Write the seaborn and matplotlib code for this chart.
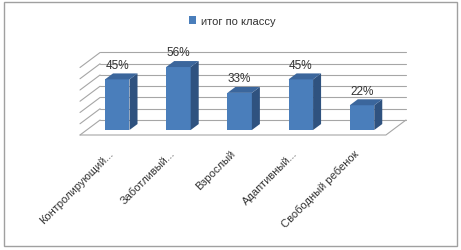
import matplotlib
matplotlib.use("Agg")
import matplotlib.pyplot as plt
import matplotlib.transforms as mtransforms
import seaborn as sns
from matplotlib.patches import Polygon, Rectangle

categories = ["Контролирующий...", "Заботливый...", "Взрослый", "Адаптивный...", "Свободный ребенок"]
values = [45, 56, 33, 45, 22]
series_name = "итог по классу"
grid_values = [0, 10, 20, 30, 40, 50, 60]

front_col = "#4A7EBB"
side_col = "#2F527F"
top_col = "#3B669C"
grid_col = "#A6A6A6"
text_col = "#333333"

# faux 3d offsets (category units, percent units)
bx, by = 0.219, 8.9      # back wall
fx, fy = 0.109, 4.44     # front floor edge
dx, dy = 0.131, 5.3      # bar depth

sns.set_style("white")
plt.rcParams["font.family"] = ["Liberation Sans", "DejaVu Sans"]

fig = plt.figure(figsize=(4.61, 2.51), dpi=100)
ax = fig.add_axes([80 / 461, (251 - 136) / 251, 326 / 461, 84 / 251])

sns.barplot(x=categories, y=values, color=front_col, saturation=1, width=0.4,
            label=series_name, ax=ax, zorder=3, linewidth=0, edgecolor="none")

# back wall + left wall gridlines
for v in grid_values:
    ax.plot([-0.5 + bx, 4.5 + bx], [v + by, v + by], color=grid_col, lw=0.8, clip_on=False, zorder=1)
    ax.plot([-0.5 - fx, -0.5 + bx], [v - fy, v + by], color=grid_col, lw=0.8, clip_on=False, zorder=1)
# floor
ax.plot([-0.5 - fx, 4.5 - fx, 4.5 + bx], [-fy, -fy, by], color=grid_col, lw=0.8, clip_on=False, zorder=1)

for p, v in zip(ax.patches, values):
    x0 = p.get_x()
    x1 = x0 + p.get_width()
    h = p.get_height()
    ax.add_patch(Polygon([(x1, 0), (x1 + dx, dy), (x1 + dx, h + dy), (x1, h)],
                         closed=True, fc=side_col, ec="none", zorder=3, clip_on=False))
    ax.add_patch(Polygon([(x0, h), (x1, h), (x1 + dx, h + dy), (x0 + dx, h + dy)],
                         closed=True, fc=top_col, ec="none", zorder=3, clip_on=False))
    ax.annotate(f"{v}%", (x0 + p.get_width() / 2, h + dy), xytext=(0, 2), textcoords="offset points",
                ha="center", va="bottom", fontsize=8.5, color=text_col)

ax.set_xlim(-0.5 - fx, 4.5 + bx)
ax.set_ylim(-fy, -fy + 84 / 1.125)
ax.set_xticks(range(len(categories)))
ax.set_xticklabels(categories, rotation=45, ha="right", rotation_mode="anchor",
                   fontsize=8, color=text_col)
ax.tick_params(axis="x", length=0, pad=9)
shift = mtransforms.ScaledTranslation(-9 / 100, 0, fig.dpi_scale_trans)
for lab in ax.get_xticklabels():
    lab.set_transform(lab.get_transform() + shift)
ax.set_yticks([])
ax.set_xlabel("")
ax.set_ylabel("")
for s in ax.spines.values():
    s.set_visible(False)
ax.patch.set_visible(False)

ax.legend(loc="center", bbox_to_anchor=(232 / 461, 1 - 22 / 251), bbox_transform=fig.transFigure,
          frameon=False, fontsize=8, handlelength=0.7, handleheight=0.7, handletextpad=0.4,
          labelcolor=text_col)

fig.add_artist(Rectangle((4 / 461, 4 / 251), 453 / 461, 244 / 251, transform=fig.transFigure,
                         fill=False, ec="#A0A0A0", lw=1))

fig.savefig("out.png", dpi=100)
